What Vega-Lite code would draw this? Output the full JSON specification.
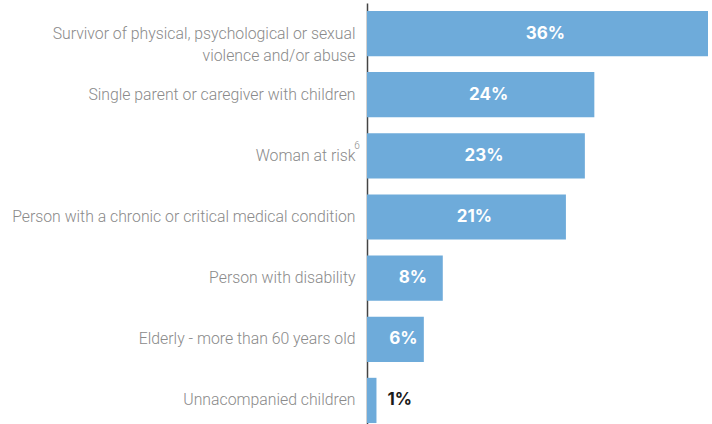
{
  "$schema": "https://vega.github.io/schema/vega-lite/v6.json",
  "width": 341,
  "height": 428,
  "padding": {"left": 367, "top": 3, "right": 4, "bottom": 0},
  "autosize": {"type": "none"},
  "background": "white",
  "config": {"view": {"stroke": null}},
  "data": {
    "values": [
      {"category": "Survivor of physical, psychological or sexual violence and/or abuse", "value": 36, "label": "36%"},
      {"category": "Single parent or caregiver with children", "value": 24, "label": "24%"},
      {"category": "Woman at risk", "value": 23, "label": "23%", "note": "6"},
      {"category": "Person with a chronic or critical medical condition", "value": 21, "label": "21%"},
      {"category": "Person with disability", "value": 8, "label": "8%"},
      {"category": "Elderly - more than 60 years old", "value": 6, "label": "6%"},
      {"category": "Unnacompanied children", "value": 1, "label": "1%"}
    ]
  },
  "encoding": {
    "y": {
      "field": "category",
      "type": "nominal",
      "sort": null,
      "scale": {"paddingInner": 0.26, "paddingOuter": 0.13},
      "axis": {
        "title": null,
        "ticks": false,
        "domainColor": "#444444",
        "domainWidth": 1.5,
        "labelFont": "Roboto",
        "labelFontWeight": 300,
        "labelFontSize": 15.8,
        "labelColor": "#8a8a8a",
        "labelPadding": 12,
        "labelLimit": 400,
        "labelLineHeight": 22,
        "labelExpr": "datum.value == 'Survivor of physical, psychological or sexual violence and/or abuse' ? ['Survivor of physical, psychological or sexual', 'violence and/or abuse'] : datum.value == 'Woman at risk' ? 'Woman at risk  ' : datum.value"
      }
    }
  },
  "layer": [
    {
      "mark": {"type": "bar", "color": "#6eabda"},
      "encoding": {
        "x": {"field": "value", "type": "quantitative", "scale": {"domain": [0, 36], "nice": false}, "axis": null}
      }
    },
    {
      "transform": [{"filter": "datum.note != null"}],
      "mark": {"type": "text", "color": "#8a8a8a", "font": "Roboto", "fontWeight": 300, "fontSize": 10, "align": "center", "baseline": "middle", "dx": -10, "dy": -10},
      "encoding": {
        "x": {"datum": 0, "type": "quantitative"},
        "text": {"field": "note"}
      }
    },
    {
      "transform": [{"filter": "datum.value >= 5"}, {"calculate": "datum.value / 2", "as": "mid"}],
      "mark": {"type": "text", "color": "white", "font": "Inter", "fontWeight": 700, "fontSize": 17, "align": "center", "baseline": "middle", "dx": 8},
      "encoding": {
        "x": {"field": "mid", "type": "quantitative"},
        "text": {"field": "label"}
      }
    },
    {
      "transform": [{"filter": "datum.value < 5"}],
      "mark": {"type": "text", "color": "#1a1a1a", "font": "Inter", "fontWeight": 700, "fontSize": 17, "align": "left", "baseline": "middle", "dx": 11},
      "encoding": {
        "x": {"field": "value", "type": "quantitative"},
        "text": {"field": "label"}
      }
    }
  ]
}
